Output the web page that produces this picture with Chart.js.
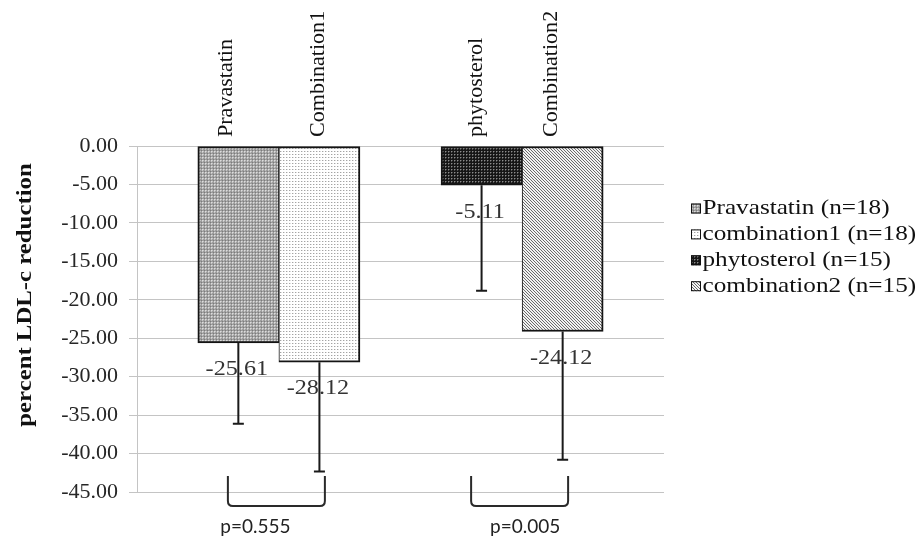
<!DOCTYPE html>
<html>
<head>
<meta charset="utf-8">
<script src="https://cdn.jsdelivr.net/npm/chart.js@4"></script>
<style>
  html, body { margin: 0; padding: 0; background: #ffffff; }
  #wrap { width: 919px; height: 537px; position: relative; }
</style>
</head>
<body>
<div id="wrap"><canvas id="c" width="919" height="537"></canvas></div>
<script>
// ---------------- data ----------------
const treatments = ['Pravastatin', 'Combination1', 'phytosterol', 'Combination2'];
const legendLabels = ['Pravastatin (n=18)', 'combination1 (n=18)', 'phytosterol (n=15)', 'combination2 (n=15)'];
const meanReduction = [-25.61, -28.12, -5.11, -24.12];
const sdReduction = [10.5, 14.2, 13.7, 16.7];
const comparisonGroup = [0, 0, 1, 1];
const pValueLabels = ['p=0.555', 'p=0.005'];
const yTickValues = [0, -5, -10, -15, -20, -25, -30, -35, -40, -45];
const yAxisTitle = 'percent LDL-c reduction';

// slot index on the x scale: two adjacent bars per group, one empty slot between groups
const slotIndex = treatments.map((_, i) => {
  const g = comparisonGroup[i];
  return g * 3 + (i - comparisonGroup.indexOf(g));
});

// ---------------- patterns ----------------
const mainCtx = document.getElementById('c').getContext('2d');
function makePattern(size, painter) {
  const c = document.createElement('canvas');
  c.width = size; c.height = size;
  const g = c.getContext('2d');
  painter(g);
  return mainCtx.createPattern(c, 'repeat');
}
function px(g, x, y, col) { g.fillStyle = col; g.fillRect(x, y, 1, 1); }
const fills = [
  makePattern(3, g => { g.fillStyle = '#9c9c9c'; g.fillRect(0, 0, 3, 3); px(g, 1, 1, '#dcdcdc'); px(g, 2, 1, '#c4c4c4'); px(g, 1, 2, '#c4c4c4'); px(g, 0, 0, '#7c7c7c'); }),
  makePattern(3, g => { g.fillStyle = '#ffffff'; g.fillRect(0, 0, 3, 3); px(g, 1, 1, '#a4a4a4'); px(g, 2, 1, '#dedede'); }),
  makePattern(3, g => { g.fillStyle = '#161616'; g.fillRect(0, 0, 3, 3); px(g, 1, 1, '#8c8c8c'); px(g, 2, 1, '#4a4a4a'); px(g, 1, 2, '#4a4a4a'); }),
  makePattern(3, g => { g.fillStyle = '#f2f2f2'; g.fillRect(0, 0, 3, 3); px(g, 0, 0, '#6a6a6a'); px(g, 1, 1, '#6a6a6a'); px(g, 2, 2, '#6a6a6a'); })
];

// ---------------- helpers ----------------
function drawText(ctx, text, x, y, o) {
  ctx.save();
  ctx.translate(x, y);
  if (o.rotate) ctx.rotate(o.rotate);
  ctx.scale(o.sx || 1, 1);
  ctx.font = o.font;
  ctx.fillStyle = o.color || '#222';
  ctx.textAlign = o.align || 'center';
  ctx.textBaseline = o.baseline || 'middle';
  ctx.fillText(text, 0, 0);
  ctx.restore();
}

const topLabelOffsets = [-6, 4.5, 0, -6];
const pLabelOffsets = [-23.5, 3];

const overlay = {
  id: 'overlay',
  afterDatasetsDraw(chart) {
    const ctx = chart.ctx;
    const ys = chart.scales.y;
    // value labels below bars
    treatments.forEach((_, i) => {
      const bar = chart.getDatasetMeta(i).data[0];
      const endY = ys.getPixelForValue(meanReduction[i]);
      drawText(ctx, meanReduction[i].toFixed(2), bar.x - 1.5, endY + 26.5,
        { font: '22px "Liberation Serif"', sx: 1.1, color: '#333333' });
    });
    // error bars (minus direction)
    ctx.save();
    ctx.strokeStyle = '#1a1a1a';
    ctx.lineWidth = 2;
    treatments.forEach((_, i) => {
      const bar = chart.getDatasetMeta(i).data[0];
      const y0 = ys.getPixelForValue(meanReduction[i]);
      const y1 = ys.getPixelForValue(meanReduction[i] - sdReduction[i]);
      ctx.beginPath();
      ctx.moveTo(bar.x, y0);
      ctx.lineTo(bar.x, y1);
      ctx.moveTo(bar.x - 5.5, y1);
      ctx.lineTo(bar.x + 5.5, y1);
      ctx.stroke();
    });
    ctx.restore();
  },
  afterDraw(chart) {
    const ctx = chart.ctx;
    const area = chart.chartArea;
    // rotated treatment labels above the bars
    treatments.forEach((name, i) => {
      const bar = chart.getDatasetMeta(i).data[0];
      drawText(ctx, name, bar.x + topLabelOffsets[i], area.top - 9,
        { font: '21px "Liberation Serif"', sx: 1.05, rotate: -Math.PI / 2, align: 'left', baseline: 'alphabetic', color: '#111111' });
    });
    // y axis title
    drawText(ctx, yAxisTitle, 26, area.top + (area.bottom - area.top) / 2 - 24,
      { font: 'bold 21px "Liberation Serif"', sx: 1.18, rotate: -Math.PI / 2, color: '#111111' });
    // brackets + p values
    pValueLabels.forEach((label, g) => {
      const xs = treatments.map((_, i) => i).filter(i => comparisonGroup[i] === g)
        .map(i => chart.getDatasetMeta(i).data[0].x);
      const gx = (Math.min(...xs) + Math.max(...xs)) / 2;
      const x1 = gx - 51, x2 = gx + 46;
      const top = area.bottom - 16, bot = area.bottom + 14, r = 5;
      ctx.save();
      ctx.strokeStyle = '#2a2a2a';
      ctx.lineWidth = 2;
      ctx.beginPath();
      ctx.moveTo(x1, top);
      ctx.lineTo(x1, bot - r);
      ctx.quadraticCurveTo(x1, bot, x1 + r, bot);
      ctx.lineTo(x2 - r, bot);
      ctx.quadraticCurveTo(x2, bot, x2, bot - r);
      ctx.lineTo(x2, top);
      ctx.stroke();
      ctx.restore();
      drawText(ctx, label, gx + pLabelOffsets[g], 532.5,
        { font: '19px Lato', baseline: 'alphabetic', color: '#222222' });
    });
    // legend
    legendLabels.forEach((label, i) => {
      const cy = 208.5 + i * 25.9;
      ctx.save();
      ctx.fillStyle = fills[i];
      ctx.fillRect(691, cy - 5, 10, 10);
      ctx.strokeStyle = '#111111';
      ctx.lineWidth = 1;
      ctx.strokeRect(691.5, cy - 4.5, 9, 9);
      ctx.restore();
      drawText(ctx, label, 702.5, cy, { font: '21px "Liberation Serif"', sx: 1.2, align: 'left', color: '#111111' });
    });
  }
};

// ---------------- chart ----------------
const datasets = treatments.map((name, i) => {
  const first = comparisonGroup.indexOf(comparisonGroup[i]) === i;
  return {
    label: legendLabels[i],
    data: [{ x: slotIndex[i], y: meanReduction[i] }],
    backgroundColor: fills[i],
    borderColor: '#141414',
    borderWidth: first ? { top: 2, bottom: 2, left: 2, right: 1 } : { top: 2, bottom: 2, left: 1, right: 2 },
    borderSkipped: false,
    grouped: false,
    barPercentage: 1,
    categoryPercentage: 1
  };
});

new Chart(document.getElementById('c'), {
  type: 'bar',
  data: { datasets },
  plugins: [overlay],
  options: {
    responsive: false,
    animation: false,
    events: [],
    layout: { padding: { top: 146, right: 255, bottom: 45, left: 0 } },
    plugins: {
      legend: { display: false },
      tooltip: { enabled: false },
      title: { display: false }
    },
    scales: {
      x: {
        type: 'linear',
        min: -1.25,
        max: 5.25,
        offset: false,
        display: false,
        grid: { display: false, offset: false }
      },
      y: {
        type: 'linear',
        position: 'left',
        min: -45,
        max: 0,
        afterBuildTicks: axis => { axis.ticks = yTickValues.map(v => ({ value: v })); },
        afterFit: axis => { axis.width = 137; },
        grid: { color: '#c4c4c4', lineWidth: 1, tickLength: 8, drawTicks: true },
        border: { color: '#c4c4c4', width: 1 },
        ticks: {
          font: { family: 'Liberation Serif', size: 22 },
          color: '#262626',
          padding: 11,
          callback: v => Number(v).toFixed(2)
        },
        title: { display: false }
      }
    }
  }
});
</script>
</body>
</html>
